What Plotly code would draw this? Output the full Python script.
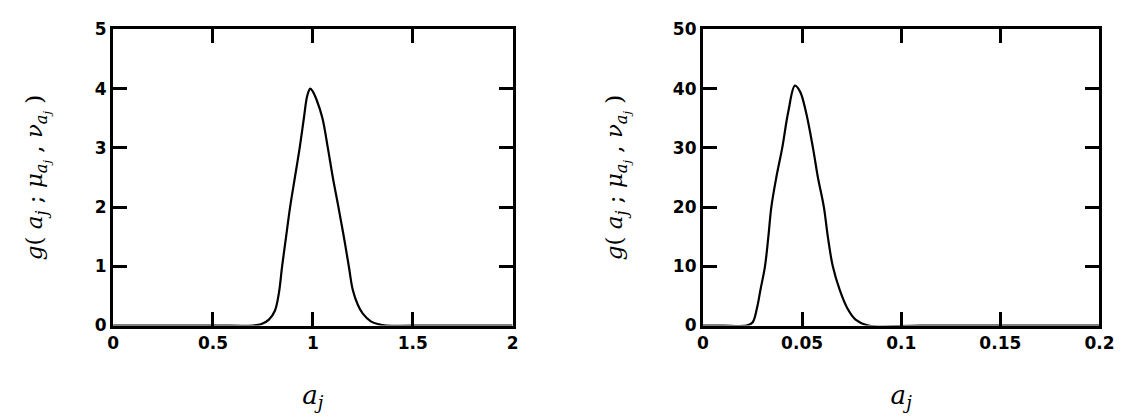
import plotly.graph_objects as go

# Left panel: density
left_x = [0, 0.5, 0.70, 0.74, 0.78, 0.81, 0.83, 0.846, 0.866, 0.886, 0.91, 0.934, 0.955, 0.972, 0.987,
          1.0, 1.02, 1.048, 1.075, 1.10, 1.128, 1.155, 1.18, 1.20, 1.225, 1.25, 1.29, 1.33, 1.37, 1.6, 2.0]
left_y = [0, 0, 0, 0.02, 0.1, 0.25, 0.55, 1.0, 1.5, 2.0, 2.5, 3.0, 3.5, 3.88, 4.0,
          3.95, 3.8, 3.5, 3.0, 2.5, 2.0, 1.5, 1.0, 0.6, 0.35, 0.2, 0.07, 0.02, 0, 0, 0]

# Right panel
right_x = [0, 0.01, 0.022, 0.025, 0.0273, 0.029, 0.0313, 0.033, 0.0345, 0.037, 0.040, 0.043, 0.0464,
           0.049, 0.052, 0.0555, 0.058, 0.061, 0.063, 0.0655, 0.069, 0.0727, 0.077, 0.0836, 0.11, 0.2]
right_y = [0, 0, 0, 0.5, 3, 6, 10, 15, 20, 25, 30, 36, 40.5,
           39.5, 36, 30, 25, 20, 15, 10, 6, 3, 1, 0, 0, 0]

left_xticks = [0, 0.5, 1, 1.5, 2]
left_xlabels = ["0", "0.5", "1", "1.5", "2"]
left_yticks = [0, 1, 2, 3, 4, 5]
right_xticks = [0, 0.05, 0.1, 0.15, 0.2]
right_xlabels = ["0", "0.05", "0.1", "0.15", "0.2"]
right_yticks = [0, 10, 20, 30, 40, 50]

ytitle = ("<i>g</i>( <i>a<sub>j</sub></i> ; <i>μ<sub>a<sub>j</sub></sub></i> , "
          "<i>ν<sub>a<sub>j</sub></sub></i> )")
xtitle = "<i>a<sub>j</sub></i>"

fig = go.Figure()
fig.add_trace(go.Scatter(x=left_x, y=left_y, mode="lines", line=dict(color="black", width=2.2),
                         line_shape="spline", xaxis="x", yaxis="y", showlegend=False))
fig.add_trace(go.Scatter(x=right_x, y=right_y, mode="lines", line=dict(color="black", width=2.2),
                         line_shape="spline", xaxis="x2", yaxis="y2", showlegend=False))

tickfont = dict(family="DejaVu Sans, Arial, sans-serif", size=17, color="black", weight="bold")
ytitlefont = dict(family="DejaVu Serif, serif", size=23, color="black")
xtitlefont = dict(family="DejaVu Serif, serif", size=26, color="black")

common_axis = dict(showline=True, linecolor="black", linewidth=3, mirror="ticks",
                   ticks="inside", ticklen=14, tickwidth=2.5, tickcolor="black",
                   showgrid=False, zeroline=False, tickfont=tickfont)

ydom = [0.2254, 0.9712]
fig.update_layout(
    width=1132, height=417,
    margin=dict(l=0, r=0, t=0, b=0),
    paper_bgcolor="white", plot_bgcolor="white",
    xaxis=dict(domain=[0.0892, 0.4488], range=[0, 2], tickvals=left_xticks, ticktext=left_xlabels,
               anchor="y", title=dict(text=xtitle, font=xtitlefont, standoff=34), **common_axis),
    yaxis=dict(domain=ydom, range=[0, 5], tickvals=left_yticks, anchor="x",
               title=dict(text=ytitle, font=ytitlefont, standoff=46), **common_axis),
    xaxis2=dict(domain=[0.6201, 0.977], range=[0, 0.2], tickvals=right_xticks, ticktext=right_xlabels,
                anchor="y2", title=dict(text=xtitle, font=xtitlefont, standoff=34), **common_axis),
    yaxis2=dict(domain=ydom, range=[0, 50], tickvals=right_yticks, anchor="x2",
                title=dict(text=ytitle, font=ytitlefont, standoff=44), **common_axis),
)

fig.write_html("out.html")
